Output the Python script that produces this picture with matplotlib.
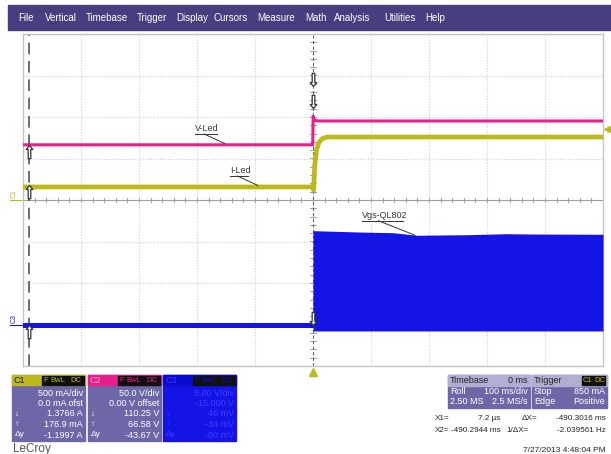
import numpy as np
import matplotlib
matplotlib.use("Agg")
import matplotlib.pyplot as plt
from matplotlib.patches import Rectangle
from matplotlib.path import Path

plt.rcParams["font.family"] = ["Liberation Sans", "DejaVu Sans"]

# --- datos (tiempo en ms) ---
# C1: corriente del LED (mA), 500 mA/div, offset 0
t_iled = [-500, -0.5, 1, 3, 6, 10, 16, 25, 500]
i_led = [157, 157, 120, 420, 600, 690, 740, 759, 759]
# C2: tension del LED (V), 50 V/div, offset 0
t_vled = [-500, -0.5, 0.3, 2, 5, 10, 500]
v_led = [66.5, 66.5, 101, 97, 95.5, 95.2, 95.2]
# C3: Vgs del mosfet (V), 5 V/div, offset -15 V
t_vgs_off = [-500, 0]
vgs_off = [-0.05, -0.05]
t_vgs_env = [0, 3, 81, 138, 179, 266, 334, 379, 500]
vgs_top = [11.3, 11.3, 11.14, 11.06, 10.75, 10.82, 10.94, 10.9, 10.87]
vgs_bot = [-0.78, -0.78, -0.78, -0.78, -0.78, -0.78, -0.78, -0.78, -0.78]

# cursores y lecturas
x1_ms = 0.0072
x2_ms = -490.2944
c1_reads = [1376.6, 176.9]   # mA en X1, X2
c2_reads = [110.25, 66.58]   # V en X1, X2
c3_reads = [-0.046, -0.034]  # V en X1, X2
trig_level_ma = 850

menu = ["File", "Vertical", "Timebase", "Trigger", "Display", "Cursors",
        "Measure", "Math", "Analysis", "Utilities", "Help"]
menu_x = [18, 45, 86, 137, 176, 214, 257, 305, 334, 384, 425]

c1_lines = ["500 mA/div", "0.0 mA ofst", "1.3766 A", "176.9 mA", "-1.1997 A"]
c2_lines = ["50.0 V/div", "0.00 V offset", "110.25 V", "66.58 V", "-43.67 V"]
c3_lines = ["5.00 V/div", "-15.000 V", "46 mV", "-34 mV", "-80 mV"]
row_syms = ["", "", "\u2193", "\u2191", "\u0394y"]

YEL = "#bdb91c"
MAG = "#e5208a"
BLU = "#1414e6"
BOX = "#6c68a8"
HDR = "#b1aed4"


def c1_div(v):
    return np.asarray(v) / 500.0


def c2_div(v):
    return np.asarray(v) / 50.0


def c3_div(v):
    return (np.asarray(v) - 15.0) / 5.0


fig = plt.figure(figsize=(6.11, 4.54), dpi=100)

# capa de interfaz en pixeles
ui = fig.add_axes([0, 0, 1, 1])
ui.set_xlim(0, 611)
ui.set_ylim(454, 0)
ui.axis("off")

ui.add_patch(Rectangle((8, 5), 603, 25, color="#463e7e"))
for name, x in zip(menu, menu_x):
    ui.text(x, 18, name, color="white", fontsize=7, va="center", ha="left")

# cuadros de canales
def channel_box(x0, head_color, name, name_color, lines, body_color, txt_color):
    ui.add_patch(Rectangle((x0, 375), 73, 66, color=body_color))
    ui.add_patch(Rectangle((x0, 375), 73, 10, color=head_color))
    ui.text(x0 + 2, 380.5, name, fontsize=6.5, color=name_color, va="center")
    ui.add_patch(Rectangle((x0 + 30, 376), 42, 8.5, color="#111111"))
    ui.text(x0 + 31, 380.5, "F", fontsize=5.5, color=head_color, va="center")
    ui.text(x0 + 38, 380.5, "BwL", fontsize=5.5, color=head_color, va="center")
    ui.text(x0 + 58, 380.5, "DC", fontsize=5.5, color=head_color, va="center")
    for k, (s, ln) in enumerate(zip(row_syms, lines)):
        y = 393 + k * 10.5
        ui.text(x0 + 71, y, ln, fontsize=6.5, color=txt_color, va="center", ha="right")
        if s:
            ui.text(x0 + 3, y, s, fontsize=6, color=txt_color, va="center")


channel_box(12, YEL, "C1", "#111111", c1_lines, BOX, "white")
channel_box(88, MAG, "C2", "#ff9fcf", c2_lines, BOX, "white")
channel_box(163, "#0a0ad0", "C3", "#3a3af0", c3_lines, BLU, "#3c3cff")

ui.text(13, 449, "LeCroy", fontsize=8.5, color="#555555", va="center")

# timebase / trigger
ui.add_patch(Rectangle((448, 375), 82, 33, color=BOX))
ui.add_patch(Rectangle((448, 375), 82, 11, color=HDR))
ui.text(450, 380.5, "Timebase", fontsize=6.5, color="#222222", va="center")
ui.text(528, 380.5, "0 ms", fontsize=6.5, color="#222222", va="center", ha="right")
ui.text(450, 391.5, "Roll", fontsize=6.5, color="white", va="center")
ui.text(528, 391.5, "100 ms/div", fontsize=6.5, color="white", va="center", ha="right")
ui.text(450, 402, "2.50 MS", fontsize=6.5, color="white", va="center")
ui.text(528, 402, "2.5 MS/s", fontsize=6.5, color="white", va="center", ha="right")

ui.add_patch(Rectangle((532, 375), 75, 33, color=BOX))
ui.add_patch(Rectangle((532, 375), 75, 11, color=HDR))
ui.text(534, 380.5, "Trigger", fontsize=6.5, color="#222222", va="center")
ui.add_patch(Rectangle((582, 376), 23, 9, color="#111111"))
ui.text(583, 380.5, "C1", fontsize=5.5, color=YEL, va="center")
ui.text(594, 380.5, "DC", fontsize=5.5, color=YEL, va="center")
ui.text(534, 391.5, "Stop", fontsize=6.5, color="white", va="center")
ui.text(605, 391.5, "850 mA", fontsize=6.5, color="white", va="center", ha="right")
ui.text(534, 402, "Edge", fontsize=6.5, color="white", va="center")
ui.text(605, 402, "Positive", fontsize=6.5, color="white", va="center", ha="right")

fs_cur = 5.9
ui.text(435, 418, "X1=", fontsize=fs_cur, color="#222222", va="center")
ui.text(500, 418, "7.2 \u00b5s", fontsize=fs_cur, color="#222222", va="center", ha="right")
ui.text(522, 418, "\u0394X=", fontsize=fs_cur, color="#222222", va="center")
ui.text(606, 418, "-490.3016 ms", fontsize=fs_cur, color="#222222", va="center", ha="right")
ui.text(435, 430, "X2=", fontsize=fs_cur, color="#222222", va="center")
ui.text(451, 430, "-490.2944 ms", fontsize=fs_cur, color="#222222", va="center", ha="left")
ui.text(506, 430, "1/\u0394X=", fontsize=fs_cur, color="#222222", va="center")
ui.text(606, 430, "-2.039561 Hz", fontsize=fs_cur, color="#222222", va="center", ha="right")
ui.text(606, 451, "7/27/2013 4:48:04 PM", fontsize=6, color="#222222", va="center", ha="right")

# --- reticula del osciloscopio ---
ax = fig.add_axes([23 / 611, 1 - 366 / 454, 580 / 611, 332 / 454])
ax.set_xlim(-500, 500)
ax.set_ylim(-4, 4)
ax.set_xticks([])
ax.set_yticks([])
for s in ax.spines.values():
    s.set_color("#c4c4c4")
    s.set_linewidth(1)

for xv in np.arange(-400, 500, 100):
    if xv != 0:
        ax.axvline(xv, color="#cfcfcf", lw=0.8, ls=(0, (1, 1.5)), zorder=1)
for yv in np.arange(-3, 4, 1):
    if yv != 0:
        ax.axhline(yv, color="#cfcfcf", lw=0.8, ls=(0, (1, 1.5)), zorder=1)

# ejes centrales con marcas
ax.axhline(0, color="#a0a0a0", lw=0.8, zorder=1)
for xv in np.arange(-500, 501, 20):
    ax.plot([xv, xv], [-0.05, 0.05], color="#a0a0a0", lw=0.7, zorder=1)
for yv in np.arange(-4, 4.01, 0.2):
    ax.plot([-5, 5], [yv, yv], color="#a0a0a0", lw=0.7, zorder=1)

# cursores
ax.axvline(x2_ms, color="#555555", lw=1.2, ls=(0, (7, 4)), zorder=2)
ax.axvline(x1_ms, color="#666666", lw=0.8, ls=(0, (3, 2)), zorder=2)

# trazas
ax.plot(t_vled, c2_div(v_led), color=MAG, lw=2.2, zorder=4)
ax.plot(t_iled, c1_div(i_led), color=YEL, lw=3.4, zorder=4)
ax.plot(t_vgs_off, c3_div(vgs_off), color=BLU, lw=3.6, zorder=4)
ax.fill_between(t_vgs_env, c3_div(vgs_bot), c3_div(vgs_top), color=BLU, lw=0, zorder=4)

# flechas de lectura de cursores
up = Path([(0, 0), (0.5, -0.6), (0.2, -0.6), (0.2, -2), (-0.2, -2), (-0.2, -0.6),
           (-0.5, -0.6), (0, 0)], closed=True)
down = Path([(0, 0), (0.5, 0.6), (0.2, 0.6), (0.2, 2), (-0.2, 2), (-0.2, 0.6),
             (-0.5, 0.6), (0, 0)], closed=True)
x2_vals = [c1_div(c1_reads[1]), c2_div(c2_reads[1]), c3_div(c3_reads[1])]
x1_vals = [c1_div(c1_reads[0]), c2_div(c2_reads[0]), c3_div(c3_reads[0])]
ax.plot([x2_ms] * 3, x2_vals, ls="none", marker=up, ms=19, mfc="white",
        mec="#333333", mew=0.9, zorder=6)
ax.plot([x1_ms] * 3, x1_vals, ls="none", marker=down, ms=19, mfc="white",
        mec="#333333", mew=0.9, zorder=6)

# nivel y posicion de disparo
ax.plot([507], [c1_div(trig_level_ma)], marker="<", ms=5, color=YEL, clip_on=False)
ax.plot([0], [-4.14], marker="^", ms=6, color=YEL, clip_on=False)

# etiquetas de canal a la izquierda
ax.text(-515, 0.15, "C1", rotation=90, fontsize=5, color=YEL, ha="center",
        va="center")
ax.plot([-522, -500], [0, 0], color=YEL, lw=0.8, clip_on=False)
ax.text(-515, -2.85, "C3", rotation=90, fontsize=5, color=BLU, ha="center",
        va="center")
ax.plot([-522, -500], [-3, -3], color=BLU, lw=0.8, clip_on=False)

# anotaciones de las trazas
def label(text, tx, ty, px, py, w):
    ax.text(tx, ty, text, fontsize=6.5, color="#333333", va="bottom", ha="left", zorder=7)
    ax.plot([tx, tx + w], [ty - 0.03, ty - 0.03], color="#333333", lw=0.7, zorder=7)
    ax.plot([tx + w * 0.4, px], [ty - 0.03, py], color="#333333", lw=0.7, zorder=7)


label("V-Led", -203, 1.62, -152, 1.36, 38)
label("I-Led", -143, 0.61, -95, 0.35, 31)
label("Vgs-QL802", 84, -0.47, 176, -0.85, 72)

fig.savefig("out.png", dpi=100)
